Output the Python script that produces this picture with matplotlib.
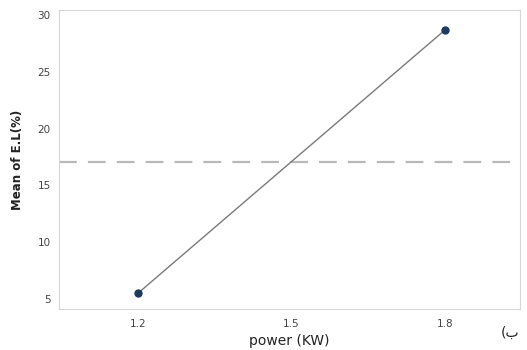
import matplotlib
matplotlib.use("Agg")
import matplotlib.pyplot as plt

power = [1.2, 1.8]
mean_el = [5.5, 28.7]
x_ticks = [1.2, 1.5, 1.8]
y_ticks = [5, 10, 15, 20, 25, 30]
grand_mean = sum(mean_el) / len(mean_el)

fig = plt.figure(figsize=(5.27, 3.5), dpi=100)
ax = fig.add_axes([59 / 527, 1 - 309 / 350, 461 / 527, 299 / 350])

ax.axhline(grand_mean, color="#b8b8b8", lw=1.6, ls=(0, (8, 5)), zorder=1)
ax.plot(power, mean_el, color="#7a7a7a", lw=1.0, zorder=2)
ax.plot(power, mean_el, "o", color="#1f3a5f", ms=5, zorder=3)

ax.set_xlim(1.046, 1.946)
ax.set_ylim(4.12, 30.44)
ax.set_xticks(x_ticks)
ax.set_xticklabels([f"{v:.1f}" for v in x_ticks])
ax.set_yticks(y_ticks)
ax.tick_params(length=0, labelsize=7.5, labelcolor="#444444", pad=6)
ax.tick_params(axis="x", pad=7)
for s in ax.spines.values():
    s.set_color("#d6d6d6")
    s.set_linewidth(0.8)

ax.set_xlabel("power (KW)", fontsize=10, color="#222222", labelpad=4)
ax.set_ylabel("Mean of E.L(%)", fontsize=8.5, fontweight="bold",
              color="#222222", labelpad=10)
fig.text(510 / 527, 1 - 333 / 350, "(ب", fontsize=10, color="#222222",
         ha="center", va="center", family=["DejaVu Sans"])

fig.savefig("out.png", dpi=100)
